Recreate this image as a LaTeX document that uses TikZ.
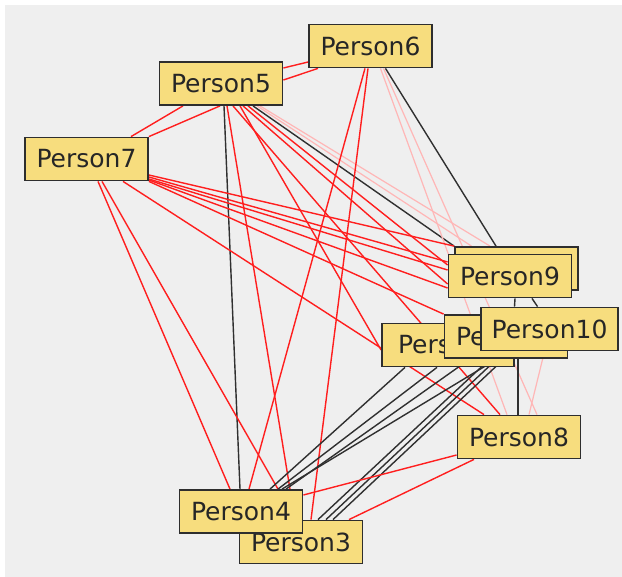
\documentclass[tikz,border=0pt]{standalone}
\usepackage{fontspec}
\setmainfont{DejaVu Sans}
\usepackage{tikz}
\usetikzlibrary{backgrounds}
\definecolor{boxfill}{HTML}{F7DD7E}
\definecolor{boxline}{HTML}{2E2E2E}
\definecolor{tiered}{HTML}{FF1E1E}
\definecolor{tiepink}{HTML}{FFB6B6}
\definecolor{tieblack}{HTML}{303030}
\definecolor{canvas}{HTML}{EFEFEF}
\tikzset{
  person/.style={draw=boxline,line width=1.8pt,fill=boxfill,text=black!85,
    minimum width=123pt,minimum height=43pt,inner sep=0pt,
    font=\fontsize{25}{25}\selectfont},
  rd/.style={tiered,line width=1.4pt},
  pk/.style={tiepink,line width=1.2pt},
  bk/.style={tieblack,line width=1.4pt}
}

\begin{document}
\begin{tikzpicture}[x=1pt,y=-1pt]
  \useasboundingbox (0,0) rectangle (622,577);
  % actors, back to front
  \node[person] (p6) at (370.5,46) {Person6};
  \node[person] (p5) at (221,83.5) {Person5};
  \node[person] (p7) at (86.5,159) {Person7};
  \node[person] (pb) at (516.5,268.5) {};
  \node[person] (p9) at (510,276) {Person9};
  \node[person,minimum width=132pt] (p1) at (448,345) {Person1};
  \node[person] (p2) at (506,336.5) {Person2};
  \node[person,minimum width=137pt] (p10) at (549.5,329) {Person10};
  \node[person] (p8) at (519,437) {Person8};
  \node[person] (p3) at (301,542) {Person3};
  \node[person] (p4) at (241,511.5) {Person4};

  \begin{scope}[on background layer]
    \fill[white] (0,0) rectangle (622,577);
    \fill[canvas] (5,5) rectangle (622,577);
    % ties of Person5
    \draw[rd] ([yshift=15.5]p5.east) -- ([yshift=-16]p6.west);
    \draw[rd] ([yshift=3.5]p5.east) -- ([xshift=-52.5]p6.south);
    \draw[rd] ([xshift=-38]p5.south) -- ([xshift=44.5]p7.north);
    \draw[rd] ([xshift=-1]p5.south) -- (p7.north east);
    \draw[bk] ([xshift=3]p5.south) -- ([xshift=-1]p4.north);
    \draw[rd] ([xshift=6]p5.south) -- ([xshift=49]p4.north);
    \draw[rd] ([xshift=19]p5.south) -- ([yshift=-5]p1.west);
    \draw[rd] ([xshift=12]p5.south) -- ([xshift=-19]p8.north);
    \draw[rd] ([xshift=22]p5.south) -- ([yshift=-8]p9.west);
    \draw[rd] ([xshift=27]p5.south) -- ([yshift=11]p9.west);
    \draw[bk] ([xshift=32]p5.south) -- (pb.north west);
    \draw[pk] ([xshift=36]p5.south) -- ([xshift=-45]pb.north);
    \draw[pk] ([xshift=39]p5.south) -- ([xshift=-26.5]pb.north);
    % ties of Person6
    \draw[rd] ([xshift=-5.5]p6.south) -- ([xshift=8]p4.north);
    \draw[rd] ([xshift=-2.5]p6.south) -- ([xshift=10]p3.north);
    \draw[pk] ([xshift=10]p6.south) -- ([xshift=-12]p8.north);
    \draw[pk] ([xshift=13]p6.south) -- ([xshift=18]p8.north);
    \draw[bk] ([xshift=15]p6.south) -- ([xshift=-20.5]pb.north);
    % ties of Person7
    \draw[rd] ([xshift=11.5]p7.south) -- ([xshift=-11]p4.north);
    \draw[rd] ([xshift=15.5]p7.south) -- ([xshift=37]p4.north);
    \draw[rd] ([xshift=36.5]p7.south) -- ([xshift=-35]p8.north);
    \draw[rd] ([yshift=-16]p7.east) -- (pb.north west);
    \draw[rd] ([yshift=-18]p7.east) -- ([yshift=14]p9.west);
    \draw[rd] ([yshift=-20]p7.east) -- ([yshift=6]p9.west);
    \draw[rd] ([yshift=-21]p7.east) -- ([yshift=-12]p9.west);
    \draw[rd] (p7.south east) -- (p2.north west);
    % cluster down to Person4 and Person3
    \draw[bk] ([xshift=-43]p1.south) -- ([xshift=29]p4.north);
    \draw[bk] ([xshift=-11]p1.south) -- ([xshift=37]p4.north);
    \draw[bk] ([xshift=-36]p2.south) -- ([xshift=45]p4.north);
    \draw[bk] ([xshift=-40]p10.south) -- ([xshift=41]p4.north);
    \draw[bk] ([xshift=-16]p2.south) -- ([xshift=17]p3.north);
    \draw[bk] ([xshift=-44.5]p10.south) -- ([xshift=25]p3.north);
    \draw[bk] ([xshift=-37.5]p10.south) -- ([xshift=32]p3.north);
    \draw[bk] ([xshift=5]p9.south) -- ([xshift=-35]p10.north);
    \draw[bk] ([xshift=22]p9.south) -- ([xshift=-12]p10.north);
    \draw[bk] ([xshift=-31.5]p10.south) -- ([xshift=-1]p8.north);
    \draw[pk] ([xshift=-5]p10.south) -- ([xshift=10]p8.north);
    % ties of Person8
    \draw[rd] ([yshift=-18]p8.west) -- ([yshift=16.5]p4.east);
    \draw[rd] ([xshift=-45]p8.south) -- ([xshift=48]p3.north);
  \end{scope}
\end{tikzpicture}
\end{document}
